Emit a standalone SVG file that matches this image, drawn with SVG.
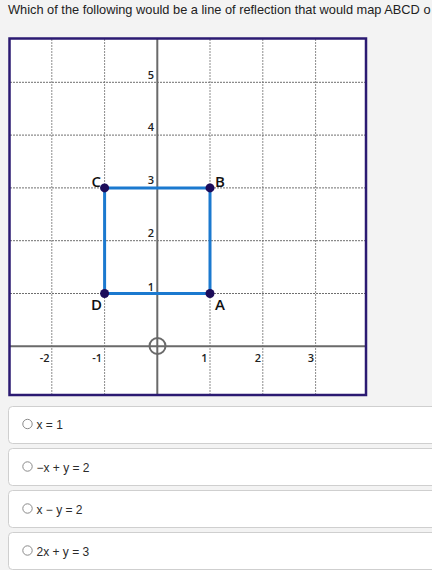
<svg xmlns="http://www.w3.org/2000/svg" width="432" height="570" viewBox="0 0 432 570">
<style>
.title{font-family:"Liberation Sans",Arial,sans-serif;font-size:12.8px;fill:#222}
.opt{font-family:"Liberation Sans",Arial,sans-serif;font-size:12px;fill:#2b2b2b}
.box{fill:#fff;stroke:#cfcfcf;stroke-width:1}
.radio{fill:#fff;stroke:#8a8a8a;stroke-width:1}
.gv{stroke:#8c8c8c;stroke-width:1;stroke-dasharray:2 1;fill:none}
.gh{stroke:#6f6f6f;stroke-width:1;stroke-dasharray:2 1;fill:none}
.axis{stroke:#6a6a6a;stroke-width:2;fill:none}
.num{font-family:"Open Sans","DejaVu Sans",sans-serif;font-size:11px;font-weight:600;fill:#222}
.lbl{font-family:"Open Sans","DejaVu Sans",sans-serif;font-size:15px;font-weight:600;fill:#111}
.edge{stroke:#1b79cf;stroke-width:3;fill:none}
.pt{fill:#1c0c5a}
</style>
<rect x="0" y="0" width="432" height="570" fill="#f3f3f3"/>
<text class="title" x="8" y="14">Which of the following would be a line of reflection that would map ABCD o</text>

<g id="graph">
<rect x="9.5" y="38.5" width="356.5" height="356.5" fill="#fff"/>
<g id="grid">
<line class="gv" x1="51.8" y1="39" x2="51.8" y2="395"/>
<line class="gv" x1="104.6" y1="39" x2="104.6" y2="395"/>
<line class="gv" x1="210" y1="39" x2="210" y2="395"/>
<line class="gv" x1="262.8" y1="39" x2="262.8" y2="395"/>
<line class="gv" x1="315.6" y1="39" x2="315.6" y2="395"/>
<line class="gh" x1="10" y1="82.3" x2="366" y2="82.3"/>
<line class="gh" x1="10" y1="135.1" x2="366" y2="135.1"/>
<line class="gh" x1="10" y1="187.9" x2="366" y2="187.9"/>
<line class="gh" x1="10" y1="240.7" x2="366" y2="240.7"/>
<line class="gh" x1="10" y1="293.5" x2="366" y2="293.5"/>
</g>
<g id="axes">
<line class="axis" x1="157.3" y1="39" x2="157.3" y2="395"/>
<line class="axis" x1="10" y1="346.3" x2="366" y2="346.3"/>
<circle cx="157.5" cy="346" r="8" fill="none" stroke="#6a6a6a" stroke-width="2"/>
</g>
<g id="ticks">
<text class="num" x="154" y="79" text-anchor="end">5</text>
<text class="num" x="154" y="131" text-anchor="end">4</text>
<text class="num" x="154" y="184" text-anchor="end">3</text>
<text class="num" x="154" y="237" text-anchor="end">2</text>
<text class="num" x="154" y="290.5" text-anchor="end">1</text>
<text class="num" x="49.5" y="362" text-anchor="end">-2</text>
<text class="num" x="102" y="362" text-anchor="end">-1</text>
<text class="num" x="207.5" y="362" text-anchor="end">1</text>
<text class="num" x="261" y="362" text-anchor="end">2</text>
<text class="num" x="314" y="362" text-anchor="end">3</text>
</g>
<rect x="9.5" y="38.5" width="356.5" height="356.5" fill="none" stroke="#2b1a72" stroke-width="2.5"/>
</g>

<g id="connectors">
<line class="edge" x1="104.6" y1="293.5" x2="210" y2="293.5"/>
<line class="edge" x1="210" y1="293.5" x2="210" y2="187.9"/>
<line class="edge" x1="210" y1="187.9" x2="104.6" y2="187.9"/>
<line class="edge" x1="104.6" y1="187.9" x2="104.6" y2="293.5"/>
</g>
<g id="A"><circle class="pt" cx="210" cy="293.5" r="4.5"/><text class="lbl" x="215" y="310">A</text></g>
<g id="B"><circle class="pt" cx="210" cy="187.9" r="4.5"/><text class="lbl" x="215" y="186.5">B</text></g>
<g id="C"><circle class="pt" cx="104.6" cy="187.9" r="4.5"/><text class="lbl" x="101" y="186.5" text-anchor="end">C</text></g>
<g id="D"><circle class="pt" cx="104.6" cy="293.5" r="4.5"/><text class="lbl" x="102" y="310" text-anchor="end">D</text></g>

<g id="opt1"><rect class="box" x="8.5" y="406.5" width="440" height="37" rx="4"/><circle class="radio" cx="27.5" cy="424" r="4.7"/><text class="opt" x="36.5" y="429.3">x = 1</text></g>
<g id="opt2"><rect class="box" x="8.5" y="448.5" width="440" height="37" rx="4"/><circle class="radio" cx="27.5" cy="466.5" r="4.7"/><text class="opt" x="36.5" y="471.8">−x + y = 2</text></g>
<g id="opt3"><rect class="box" x="8.5" y="490.5" width="440" height="37" rx="4"/><circle class="radio" cx="27.5" cy="508.5" r="4.7"/><text class="opt" x="36.5" y="513.8">x − y = 2</text></g>
<g id="opt4"><rect class="box" x="8.5" y="532.5" width="440" height="37" rx="4"/><circle class="radio" cx="27.5" cy="550.5" r="4.7"/><text class="opt" x="36.5" y="555.8">2x + y = 3</text></g>
</svg>
